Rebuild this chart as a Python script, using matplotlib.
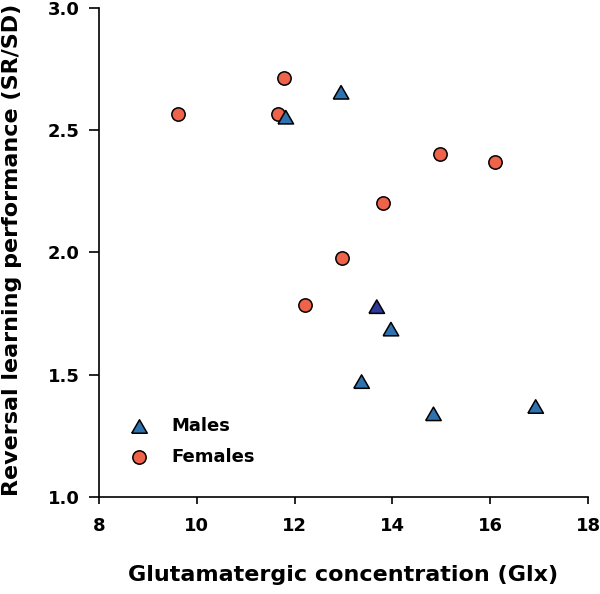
import matplotlib
matplotlib.use("Agg")
import matplotlib.pyplot as plt

plt.rcParams["font.family"] = ["DejaVu Sans"]
plt.rcParams["font.weight"] = "bold"

# Glx concentration vs reversal learning performance
male_x = [11.82, 12.95, 13.68, 13.97, 13.37, 14.84, 16.93]
male_y = [2.554, 2.656, 1.778, 1.686, 1.471, 1.339, 1.369]
male_colors = ["#2F72B0", "#2F72B0", "#2E3A99", "#2F72B0", "#2F72B0", "#2F72B0", "#2F72B0"]

female_x = [9.61, 11.78, 11.67, 14.97, 16.09, 13.81, 12.97, 12.21]
female_y = [2.567, 2.716, 2.567, 2.405, 2.372, 2.204, 1.976, 1.785]

x_ticks = [8, 10, 12, 14, 16, 18]
y_ticks = [1.0, 1.5, 2.0, 2.5, 3.0]

# wide, flat triangle (bbox centred)
tri = [(-1, -0.866), (1, -0.866), (0, 0.866), (-1, -0.866)]

fig = plt.figure(figsize=(6.0, 5.94), dpi=100)
ax = fig.add_axes([0.165, 0.164, 0.815, 0.822])

ax.scatter(female_x, female_y, s=92, marker="o", color="#EE6349",
           edgecolor="black", linewidth=1.1, zorder=3, label="Females")
ax.scatter(male_x, male_y, s=125, marker=tri, color=male_colors,
           edgecolor="black", linewidth=1.1, zorder=4, label="Males")

ax.set_xlim(8, 18)
ax.set_ylim(1.0, 3.0)
ax.set_xticks(x_ticks)
ax.set_yticks(y_ticks)
ax.set_yticklabels([f"{v:.1f}" for v in y_ticks])
ax.tick_params(axis="y", direction="out", length=7, width=1.2, labelsize=13, pad=7)
ax.tick_params(axis="x", direction="out", length=5, width=1.2, labelsize=13, pad=10)
for lab in ax.get_xticklabels() + ax.get_yticklabels():
    lab.set_fontweight("bold")

for side in ["top", "right"]:
    ax.spines[side].set_visible(False)
for side in ["left", "bottom"]:
    ax.spines[side].set_linewidth(1.2)

ax.set_xlabel("Glutamatergic concentration (Glx)", fontsize=16, fontweight="bold")
ax.set_ylabel("Reversal learning performance (SR/SD)", fontsize=16, fontweight="bold")
ax.xaxis.set_label_coords(0.5, -0.14)
ax.yaxis.set_label_coords(-0.158, 0.505)

handles, labels = ax.get_legend_handles_labels()
leg = ax.legend(handles[::-1], labels[::-1], loc="lower left",
                bbox_to_anchor=(0.012, 0.03), frameon=False, fontsize=13,
                handletextpad=0.8, labelspacing=0.72)
for t in leg.get_texts():
    t.set_fontweight("bold")
leg.legend_handles[0].set_facecolor("#2F72B0")

fig.savefig("out.png", dpi=100)
